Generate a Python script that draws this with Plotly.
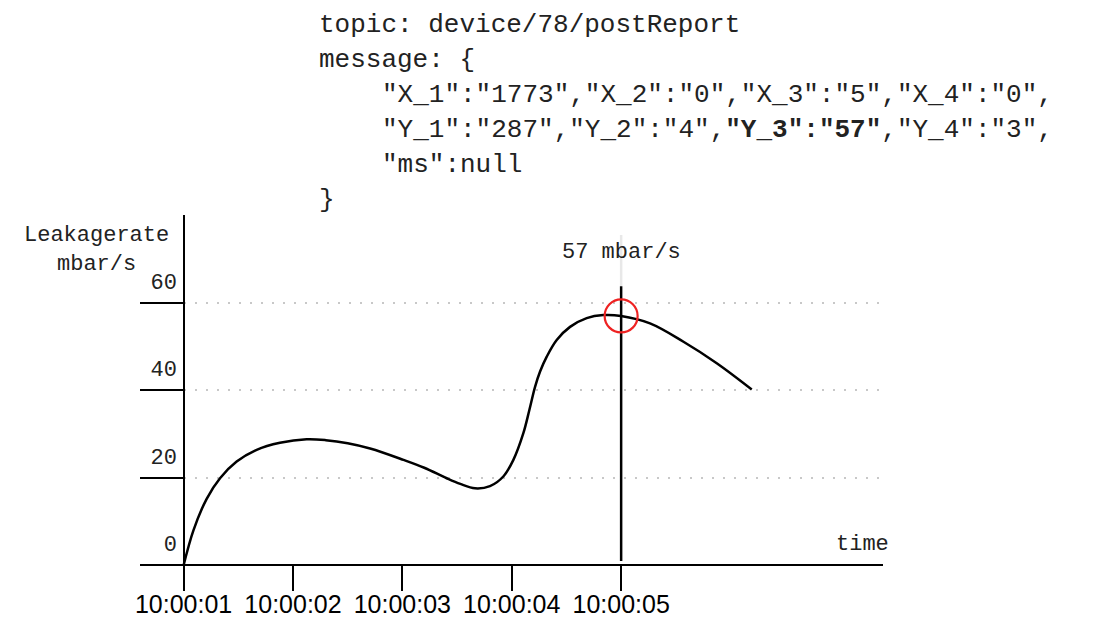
import plotly.graph_objects as go

# ---- data ----
tick_seconds = [0, 1, 2, 3, 4]
tick_labels = ["10:00:01", "10:00:02", "10:00:03", "10:00:04", "10:00:05"]
y_ticks = [0, 20, 40, 60]
y_tick_labels = ["0", "20", "40", "60"]

t_sec = [0.0, 0.09, 0.211, 0.333, 0.485, 0.668, 0.881, 1.125, 1.3, 1.5,
         1.705, 2.01, 2.2, 2.405, 2.53, 2.664, 2.801, 2.923, 3.015, 3.106, 3.161,
         3.213, 3.259, 3.32, 3.411, 3.533, 3.685, 3.837, 4.0, 4.264, 4.57, 4.874, 5.194]
leak_rate = [0.0, 8.0, 15.2, 19.9, 23.7, 26.4, 28.0, 28.8, 28.6, 27.9,
             26.7, 24.1, 22.3, 19.9, 18.6, 17.6, 18.1, 20.3, 24.1, 30.2, 35.5,
             40.8, 44.3, 47.7, 51.5, 54.5, 56.5, 57.2, 57.0, 55.3, 51.1, 46.2, 40.2]

marker_time = 4
marker_value = 57
cursor_dark = [1, 63.8]
cursor_light = [63.8, 75.5]
label_value = 71.6

code_lines = [
    "topic: device/78/postReport",
    "message: {",
    '"X_1":"1773","X_2":"0","X_3":"5","X_4":"0",',
    '"Y_1":"287","Y_2":"4",<b>"Y_3":"57"</b>,"Y_4":"3",',
    '"ms":null',
    "}",
]
code_indent = [False, False, True, True, True, False]

# ---- layout geometry ----
W, H = 1096, 630
L, R, T, B = 140, 883, 215, 587


def px(x):
    return (x - L) / (R - L)


def py(y):
    return (B - y) / (B - T)


mono = "Liberation Mono, Courier New, monospace"
sans = "Liberation Sans, Arial, sans-serif"

fig = go.Figure()

fig.add_trace(go.Scatter(x=t_sec, y=leak_rate, mode="lines",
                         line=dict(color="black", width=2.5, shape="spline", smoothing=1.0),
                         hoverinfo="skip", showlegend=False))

fig.add_trace(go.Scatter(x=[marker_time, marker_time], y=cursor_light, mode="lines",
                         line=dict(color="#e8e8e8", width=2.5), showlegend=False))
fig.add_trace(go.Scatter(x=[marker_time, marker_time], y=cursor_dark, mode="lines",
                         line=dict(color="black", width=2.5), showlegend=False))
fig.add_trace(go.Scatter(x=[marker_time], y=[marker_value], mode="markers",
                         marker=dict(symbol="circle-open", size=33, color="#ee2222",
                                     line=dict(width=2.2, color="#ee2222")),
                         showlegend=False))

annotations = [
    dict(x=marker_time, y=label_value, xref="x", yref="y", text=f"{marker_value} mbar/s",
         xanchor="center", yanchor="middle",
         showarrow=False, font=dict(family=mono, size=22, color="#222")),
    dict(x=px(96.5), y=py(249.5), xref="paper", yref="paper", text="Leakagerate<br>mbar/s",
         xanchor="center", yanchor="middle",
         showarrow=False, align="center", font=dict(family=mono, size=22, color="#222")),
    dict(x=px(862.5), y=py(544), xref="paper", yref="paper", text="time",
         xanchor="center", yanchor="middle",
         showarrow=False, font=dict(family=mono, size=22, color="#222")),
]
line_y = [25, 60, 95, 130, 165, 200]
for txt, ind, yy in zip(code_lines, code_indent, line_y):
    annotations.append(dict(x=px(380 if ind else 317), y=py(yy), xref="paper", yref="paper",
                            xanchor="left", yanchor="middle", text=txt, showarrow=False,
                            font=dict(family=mono, size=26, color="#222")))

fig.update_layout(
    width=W, height=H,
    margin=dict(l=L, r=W - R, t=T, b=H - B, pad=0),
    plot_bgcolor="white", paper_bgcolor="white",
    showlegend=False,
    annotations=annotations,
    xaxis=dict(
        range=[-0.3986, 6.394], anchor="free", position=4.96 / 85.03,
        tickvals=tick_seconds, ticktext=tick_labels,
        ticks="outside", ticklen=25, tickwidth=2, tickcolor="black",
        showline=True, linecolor="black", linewidth=2,
        showgrid=False, zeroline=True, zerolinecolor="black", zerolinewidth=2,
        tickfont=dict(family=sans, size=25, color="black"),
        ticklabelstandoff=-8,
        automargin=False, fixedrange=True,
    ),
    yaxis=dict(
        range=[-4.96, 80.07], tickvals=y_ticks, ticktext=y_tick_labels,
        ticks="inside", ticklen=43, tickwidth=2, tickcolor="black",
        showline=False, zeroline=False,
        showgrid=True, gridcolor="#c8c8c8", gridwidth=2, griddash="2px,9px",
        tickfont=dict(family=mono, size=22, color="#222"),
        ticklabelshift=-22, ticklabelstandoff=-38,
        automargin=False, fixedrange=True,
    ),
)

fig.write_html("out.html", config={"displayModeBar": False},
               post_script="document.body.style.margin='0';document.body.style.overflow='hidden';")
